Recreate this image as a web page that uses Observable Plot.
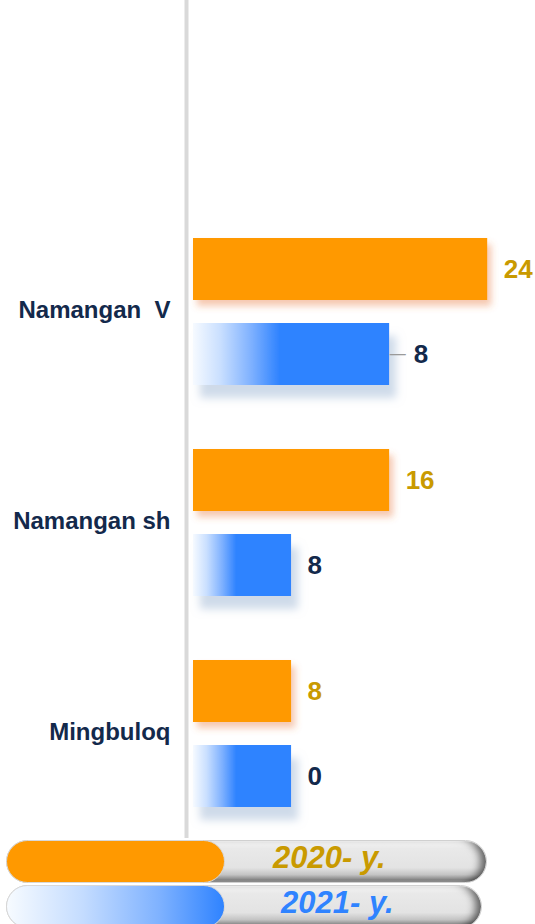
<!DOCTYPE html>
<html>
<head>
<meta charset="utf-8">
<script src="https://cdn.jsdelivr.net/npm/d3@7"></script>
<script src="https://cdn.jsdelivr.net/npm/@observablehq/plot@0.6"></script>
<style>
  html, body { margin: 0; padding: 0; background: #fff; }
  body { width: 535px; height: 924px; overflow: hidden; font-family: "Liberation Sans", Arial, sans-serif; }
  #chart svg text { white-space: pre; }
  #legend { position: relative; width: 535px; height: 84px; }
  .pill { position: absolute; left: 6px; height: 43px; border-radius: 22px; box-sizing: border-box;
    background: linear-gradient(to bottom, #f8f8f8 0%, #e9e9e9 18%, #e3e3e3 65%, #c4c4c4 82%, #8a8a8a 94%, #9a9a9a 100%);
    box-shadow: inset -9px 0 9px -4px rgba(0,0,0,0.6), inset 0 1px 0 #ffffff;
    border: 1px solid #d0d0d0; }
  .swatch { position: absolute; left: -1px; top: -1px; width: 219px; height: 43px; border-radius: 22px; box-sizing: border-box; border: 1px solid #d8d8d8; }
  .ltext { position: absolute; top: 0; font: italic bold 31px "Liberation Sans", Arial, sans-serif; line-height: 33px; white-space: pre; }
</style>
</head>
<body>
<div id="chart"></div>
<div id="legend"></div>
<script>
// ---- data ----
const categories = ["Namangan  V", "Namangan sh", "Mingbuloq"];
const years = ["2020- y.", "2021- y."];
const bar2020 = [24, 16, 8];          // bar lengths as drawn
const bar2021 = [16, 8, 8];
const label2020 = ["24", "16", "8"];  // printed value labels
const label2021 = ["8", "8", "0"];
const leader2021 = [true, false, false];

const colors = { orange: "#ff9900", blue: "#2f83ff", gold: "#c99a00", navy: "#13294b" };

const d2020 = categories.map((c, i) => ({ category: c, year: years[0], value: bar2020[i], label: label2020[i] }));
const d2021 = categories.map((c, i) => ({ category: c, year: years[1], value: bar2021[i], label: label2021[i], leader: leader2021[i] }));

const font = "Liberation Sans, Arial, sans-serif";

const plot = Plot.plot({
  width: 535,
  height: 840,
  marginLeft: 193,
  marginRight: 0,
  marginTop: 205,
  marginBottom: 0,
  style: { fontFamily: font, background: "transparent", overflow: "visible" },
  x: { domain: [0, 27.9], axis: null },
  y: { domain: years, paddingInner: 0.267, paddingOuter: 0.362, axis: null },
  fy: { domain: categories, padding: 0, axis: null },
  marks: [
    Plot.barX(d2020, { fy: "category", y: "year", x: "value", fill: colors.orange, ariaLabel: "bar-2020" }),
    Plot.barX(d2021, { fy: "category", y: "year", x: "value", fill: "url(#blueGrad)", ariaLabel: "bar-2021" }),
    Plot.text(d2020, { fy: "category", y: "year", x: "value", text: "label", dx: 16, textAnchor: "start",
      fontSize: 26, fontWeight: "bold", fill: colors.gold }),
    Plot.text(d2021.filter(d => !d.leader), { fy: "category", y: "year", x: "value", text: "label", dx: 16, textAnchor: "start",
      fontSize: 26, fontWeight: "bold", fill: colors.navy }),
    Plot.text(d2021.filter(d => d.leader), { fy: "category", y: "year", x: "value", text: "label", dx: 24, textAnchor: "start",
      fontSize: 26, fontWeight: "bold", fill: colors.navy }),
    Plot.text(d2021.filter(d => d.leader), { fy: "category", y: "year", x: "value", text: () => "\u2014", dx: 0, dy: -1, textAnchor: "start",
      fontSize: 16, fill: "#9a9a9a" }),
    Plot.text(categories, { fy: d => d, frameAnchor: "left", text: d => d, textAnchor: "end", dx: -23, dy: -2,
      fontSize: 24, fontWeight: "bold", fill: colors.navy, ariaLabel: "category-label" })
  ]
});

// defs: gradient + shadows
const NS = "http://www.w3.org/2000/svg";
const defs = document.createElementNS(NS, "defs");
defs.innerHTML = `
  <linearGradient id="blueGrad" x1="0" y1="0" x2="1" y2="0">
    <stop offset="0" stop-color="#f6faff"/>
    <stop offset="0.14" stop-color="#c9dfff"/>
    <stop offset="0.30" stop-color="#7db0ff"/>
    <stop offset="0.44" stop-color="#2f83ff"/>
    <stop offset="1" stop-color="#2f83ff"/>
  </linearGradient>
  <filter id="shO" x="-10%" y="-30%" width="130%" height="170%">
    <feDropShadow dx="4" dy="6" stdDeviation="3.5" flood-color="#e8743a" flood-opacity="0.4"/>
  </filter>
  <filter id="shB" x="-10%" y="-30%" width="130%" height="180%">
    <feDropShadow dx="7" dy="13" stdDeviation="4" flood-color="#9fb6d4" flood-opacity="0.5"/>
  </filter>`;
plot.insertBefore(defs, plot.firstChild);
plot.querySelectorAll('g[aria-label="bar-2020"], g[fill="#ff9900"]').forEach(g => g.setAttribute("filter", "url(#shO)"));
plot.querySelectorAll('g[aria-label="bar-2021"], g[fill="url(#blueGrad)"]').forEach(g => g.setAttribute("filter", "url(#shB)"));

// vertical axis line just left of the bar origin
const xs = plot.scale("x");
const x0 = xs.apply ? xs.apply(0) : 193;
const line = document.createElementNS(NS, "rect");
line.setAttribute("x", x0 - 8.5);
line.setAttribute("y", 0);
line.setAttribute("width", 4);
line.setAttribute("height", 838);
line.setAttribute("fill", "#d9d9d9");
plot.insertBefore(line, defs.nextSibling);

document.getElementById("chart").appendChild(plot);

// legend
const legend = document.getElementById("legend");
const legendItems = [
  { label: years[0], swatch: colors.orange, text: colors.gold, top: 0, width: 481, textLeft: 266 },
  { label: years[1], swatch: "linear-gradient(to right, #f7fbff 0%, #c4dcff 35%, #7fb2ff 70%, #2f83ff 100%)", text: colors.blue, top: 45, width: 476, textLeft: 274 }
];
legendItems.forEach(it => {
  const p = document.createElement("div");
  p.className = "pill";
  p.style.top = it.top + "px";
  p.style.width = it.width + "px";
  const s = document.createElement("div");
  s.className = "swatch";
  s.style.background = it.swatch;
  p.appendChild(s);
  const t = document.createElement("div");
  t.className = "ltext";
  t.style.left = it.textLeft + "px";
  t.style.color = it.text;
  t.textContent = it.label;
  p.appendChild(t);
  legend.appendChild(p);
});
</script>
</body>
</html>
